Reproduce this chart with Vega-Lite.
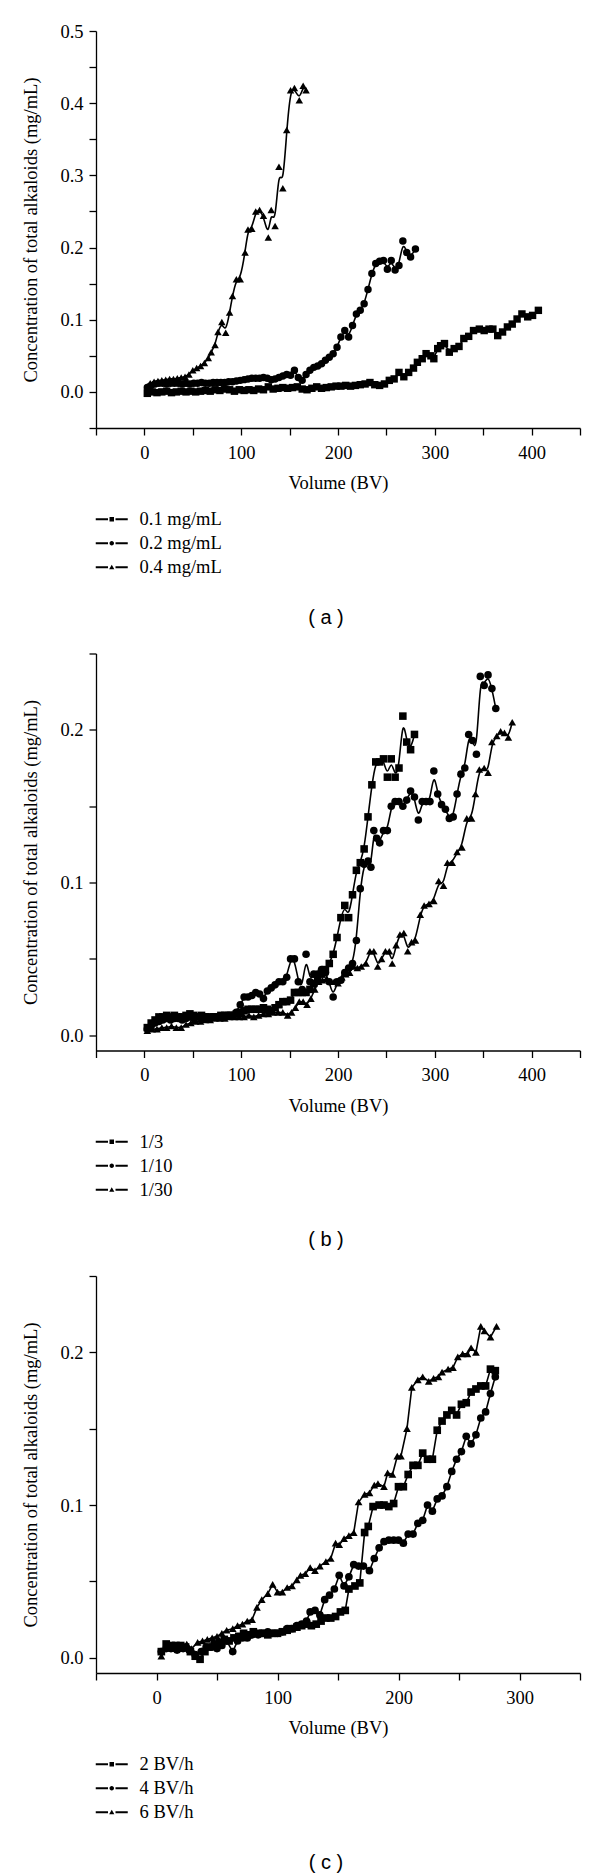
{
"$schema": "https://vega.github.io/schema/vega-lite/v6.json",
"background": "white",
"padding": {"left": 21, "top": 22, "right": 5, "bottom": 0},
"spacing": 16.5,
"config": {
  "view": {"stroke": null},
  "font": "Liberation Serif",
  "axis": {"grid": false, "domainColor": "black", "domainWidth": 1.3, "tickColor": "black", "tickWidth": 1.3, "tickSize": 7, "labelColor": "black", "labelFont": "Liberation Serif", "labelFontSize": 18.5, "labelPadding": 6, "labelOverlap": false, "labelFlush": false, "titleFont": "Liberation Serif", "titleFontSize": 18.5, "titleFontWeight": "normal", "titleColor": "black"},
  "axisY": {"titlePadding": 19},
  "axisX": {"titlePadding": 12, "labelPadding": 8},
  "legend": {"title": null, "orient": "none", "legendX": 6.5, "legendY": 479, "labelFont": "Liberation Serif", "labelFontSize": 18.5, "labelColor": "black", "labelOffset": 18.5, "rowPadding": 5, "padding": 0},
  "title": {"font": "Liberation Sans", "fontSize": 20, "fontWeight": "normal", "color": "black", "orient": "bottom", "anchor": "middle", "frame": "group", "offset": 30.5, "dx": -12}
},
"datasets": {
"a": [
{"v":3,"c":-0.002,"s":"0.1 mg/mL"},{"v":8,"c":0.0,"s":"0.1 mg/mL"},{"v":13,"c":-0.001,"s":"0.1 mg/mL"},{"v":18,"c":0.0,"s":"0.1 mg/mL"},{"v":23,"c":0.001,"s":"0.1 mg/mL"},{"v":28,"c":-0.001,"s":"0.1 mg/mL"},{"v":33,"c":0.0,"s":"0.1 mg/mL"},{"v":38,"c":0.001,"s":"0.1 mg/mL"},{"v":43,"c":0.0,"s":"0.1 mg/mL"},{"v":48,"c":0.001,"s":"0.1 mg/mL"},{"v":53,"c":0.0,"s":"0.1 mg/mL"},{"v":58,"c":0.001,"s":"0.1 mg/mL"},{"v":63,"c":0.002,"s":"0.1 mg/mL"},{"v":68,"c":0.001,"s":"0.1 mg/mL"},{"v":73,"c":0.003,"s":"0.1 mg/mL"},{"v":78,"c":0.002,"s":"0.1 mg/mL"},{"v":83,"c":0.004,"s":"0.1 mg/mL"},{"v":88,"c":0.003,"s":"0.1 mg/mL"},{"v":93,"c":0.001,"s":"0.1 mg/mL"},{"v":98,"c":0.003,"s":"0.1 mg/mL"},{"v":103,"c":0.002,"s":"0.1 mg/mL"},{"v":108,"c":0.003,"s":"0.1 mg/mL"},{"v":113,"c":0.002,"s":"0.1 mg/mL"},{"v":118,"c":0.004,"s":"0.1 mg/mL"},{"v":123,"c":0.003,"s":"0.1 mg/mL"},{"v":128,"c":0.007,"s":"0.1 mg/mL"},{"v":133,"c":0.004,"s":"0.1 mg/mL"},{"v":138,"c":0.005,"s":"0.1 mg/mL"},{"v":143,"c":0.006,"s":"0.1 mg/mL"},{"v":148,"c":0.005,"s":"0.1 mg/mL"},{"v":153,"c":0.006,"s":"0.1 mg/mL"},{"v":158,"c":0.007,"s":"0.1 mg/mL"},{"v":163,"c":0.004,"s":"0.1 mg/mL"},{"v":168,"c":0.003,"s":"0.1 mg/mL"},{"v":173,"c":0.005,"s":"0.1 mg/mL"},{"v":178,"c":0.007,"s":"0.1 mg/mL"},{"v":183,"c":0.005,"s":"0.1 mg/mL"},{"v":188,"c":0.006,"s":"0.1 mg/mL"},{"v":193,"c":0.007,"s":"0.1 mg/mL"},{"v":198,"c":0.008,"s":"0.1 mg/mL"},{"v":203,"c":0.008,"s":"0.1 mg/mL"},{"v":208,"c":0.009,"s":"0.1 mg/mL"},{"v":213,"c":0.008,"s":"0.1 mg/mL"},{"v":218,"c":0.009,"s":"0.1 mg/mL"},{"v":223,"c":0.01,"s":"0.1 mg/mL"},{"v":228,"c":0.011,"s":"0.1 mg/mL"},{"v":233,"c":0.013,"s":"0.1 mg/mL"},{"v":238,"c":0.01,"s":"0.1 mg/mL"},{"v":243,"c":0.009,"s":"0.1 mg/mL"},{"v":248,"c":0.011,"s":"0.1 mg/mL"},{"v":253,"c":0.016,"s":"0.1 mg/mL"},{"v":258,"c":0.018,"s":"0.1 mg/mL"},{"v":263,"c":0.027,"s":"0.1 mg/mL"},{"v":268,"c":0.021,"s":"0.1 mg/mL"},{"v":273,"c":0.027,"s":"0.1 mg/mL"},{"v":278,"c":0.033,"s":"0.1 mg/mL"},{"v":282,"c":0.041,"s":"0.1 mg/mL"},{"v":287,"c":0.046,"s":"0.1 mg/mL"},{"v":291,"c":0.053,"s":"0.1 mg/mL"},{"v":296,"c":0.05,"s":"0.1 mg/mL"},{"v":299,"c":0.046,"s":"0.1 mg/mL"},{"v":303,"c":0.06,"s":"0.1 mg/mL"},{"v":306,"c":0.064,"s":"0.1 mg/mL"},{"v":310,"c":0.067,"s":"0.1 mg/mL"},{"v":315,"c":0.055,"s":"0.1 mg/mL"},{"v":320,"c":0.06,"s":"0.1 mg/mL"},{"v":325,"c":0.063,"s":"0.1 mg/mL"},{"v":330,"c":0.074,"s":"0.1 mg/mL"},{"v":335,"c":0.077,"s":"0.1 mg/mL"},{"v":340,"c":0.085,"s":"0.1 mg/mL"},{"v":346,"c":0.087,"s":"0.1 mg/mL"},{"v":351,"c":0.085,"s":"0.1 mg/mL"},{"v":356,"c":0.087,"s":"0.1 mg/mL"},{"v":360,"c":0.087,"s":"0.1 mg/mL"},{"v":365,"c":0.078,"s":"0.1 mg/mL"},{"v":370,"c":0.083,"s":"0.1 mg/mL"},{"v":375,"c":0.09,"s":"0.1 mg/mL"},{"v":380,"c":0.094,"s":"0.1 mg/mL"},{"v":385,"c":0.101,"s":"0.1 mg/mL"},{"v":390,"c":0.108,"s":"0.1 mg/mL"},{"v":396,"c":0.104,"s":"0.1 mg/mL"},{"v":401,"c":0.106,"s":"0.1 mg/mL"},{"v":407,"c":0.113,"s":"0.1 mg/mL"},
{"v":3,"c":0.006,"s":"0.2 mg/mL"},{"v":7,"c":0.009,"s":"0.2 mg/mL"},{"v":11,"c":0.011,"s":"0.2 mg/mL"},{"v":15,"c":0.012,"s":"0.2 mg/mL"},{"v":19,"c":0.012,"s":"0.2 mg/mL"},{"v":23,"c":0.011,"s":"0.2 mg/mL"},{"v":27,"c":0.012,"s":"0.2 mg/mL"},{"v":31,"c":0.012,"s":"0.2 mg/mL"},{"v":35,"c":0.012,"s":"0.2 mg/mL"},{"v":39,"c":0.011,"s":"0.2 mg/mL"},{"v":43,"c":0.012,"s":"0.2 mg/mL"},{"v":47,"c":0.011,"s":"0.2 mg/mL"},{"v":51,"c":0.012,"s":"0.2 mg/mL"},{"v":55,"c":0.012,"s":"0.2 mg/mL"},{"v":59,"c":0.013,"s":"0.2 mg/mL"},{"v":63,"c":0.012,"s":"0.2 mg/mL"},{"v":67,"c":0.012,"s":"0.2 mg/mL"},{"v":71,"c":0.013,"s":"0.2 mg/mL"},{"v":75,"c":0.013,"s":"0.2 mg/mL"},{"v":79,"c":0.013,"s":"0.2 mg/mL"},{"v":83,"c":0.013,"s":"0.2 mg/mL"},{"v":87,"c":0.014,"s":"0.2 mg/mL"},{"v":91,"c":0.014,"s":"0.2 mg/mL"},{"v":95,"c":0.015,"s":"0.2 mg/mL"},{"v":99,"c":0.016,"s":"0.2 mg/mL"},{"v":103,"c":0.017,"s":"0.2 mg/mL"},{"v":107,"c":0.018,"s":"0.2 mg/mL"},{"v":111,"c":0.019,"s":"0.2 mg/mL"},{"v":115,"c":0.019,"s":"0.2 mg/mL"},{"v":119,"c":0.019,"s":"0.2 mg/mL"},{"v":123,"c":0.02,"s":"0.2 mg/mL"},{"v":127,"c":0.019,"s":"0.2 mg/mL"},{"v":131,"c":0.017,"s":"0.2 mg/mL"},{"v":135,"c":0.018,"s":"0.2 mg/mL"},{"v":139,"c":0.02,"s":"0.2 mg/mL"},{"v":143,"c":0.022,"s":"0.2 mg/mL"},{"v":147,"c":0.024,"s":"0.2 mg/mL"},{"v":151,"c":0.023,"s":"0.2 mg/mL"},{"v":155,"c":0.03,"s":"0.2 mg/mL"},{"v":159,"c":0.02,"s":"0.2 mg/mL"},{"v":163,"c":0.016,"s":"0.2 mg/mL"},{"v":167,"c":0.024,"s":"0.2 mg/mL"},{"v":171,"c":0.03,"s":"0.2 mg/mL"},{"v":175,"c":0.034,"s":"0.2 mg/mL"},{"v":179,"c":0.036,"s":"0.2 mg/mL"},{"v":183,"c":0.039,"s":"0.2 mg/mL"},{"v":187,"c":0.044,"s":"0.2 mg/mL"},{"v":191,"c":0.048,"s":"0.2 mg/mL"},{"v":195,"c":0.053,"s":"0.2 mg/mL"},{"v":199,"c":0.062,"s":"0.2 mg/mL"},{"v":203,"c":0.076,"s":"0.2 mg/mL"},{"v":207,"c":0.085,"s":"0.2 mg/mL"},{"v":211,"c":0.076,"s":"0.2 mg/mL"},{"v":215,"c":0.092,"s":"0.2 mg/mL"},{"v":219,"c":0.108,"s":"0.2 mg/mL"},{"v":223,"c":0.113,"s":"0.2 mg/mL"},{"v":227,"c":0.122,"s":"0.2 mg/mL"},{"v":231,"c":0.142,"s":"0.2 mg/mL"},{"v":235,"c":0.164,"s":"0.2 mg/mL"},{"v":239,"c":0.178,"s":"0.2 mg/mL"},{"v":243,"c":0.181,"s":"0.2 mg/mL"},{"v":247,"c":0.182,"s":"0.2 mg/mL"},{"v":251,"c":0.17,"s":"0.2 mg/mL"},{"v":255,"c":0.182,"s":"0.2 mg/mL"},{"v":259,"c":0.169,"s":"0.2 mg/mL"},{"v":263,"c":0.175,"s":"0.2 mg/mL"},{"v":267,"c":0.209,"s":"0.2 mg/mL"},{"v":271,"c":0.193,"s":"0.2 mg/mL"},{"v":275,"c":0.187,"s":"0.2 mg/mL"},{"v":280,"c":0.198,"s":"0.2 mg/mL"},
{"v":3,"c":0.008,"s":"0.4 mg/mL"},{"v":6,"c":0.012,"s":"0.4 mg/mL"},{"v":10,"c":0.014,"s":"0.4 mg/mL"},{"v":14,"c":0.015,"s":"0.4 mg/mL"},{"v":18,"c":0.016,"s":"0.4 mg/mL"},{"v":22,"c":0.017,"s":"0.4 mg/mL"},{"v":26,"c":0.018,"s":"0.4 mg/mL"},{"v":30,"c":0.018,"s":"0.4 mg/mL"},{"v":34,"c":0.019,"s":"0.4 mg/mL"},{"v":38,"c":0.02,"s":"0.4 mg/mL"},{"v":42,"c":0.021,"s":"0.4 mg/mL"},{"v":46,"c":0.024,"s":"0.4 mg/mL"},{"v":50,"c":0.03,"s":"0.4 mg/mL"},{"v":54,"c":0.033,"s":"0.4 mg/mL"},{"v":58,"c":0.036,"s":"0.4 mg/mL"},{"v":62,"c":0.04,"s":"0.4 mg/mL"},{"v":66,"c":0.047,"s":"0.4 mg/mL"},{"v":69,"c":0.055,"s":"0.4 mg/mL"},{"v":73,"c":0.065,"s":"0.4 mg/mL"},{"v":76,"c":0.083,"s":"0.4 mg/mL"},{"v":80,"c":0.097,"s":"0.4 mg/mL"},{"v":84,"c":0.082,"s":"0.4 mg/mL"},{"v":88,"c":0.11,"s":"0.4 mg/mL"},{"v":91,"c":0.133,"s":"0.4 mg/mL"},{"v":95,"c":0.156,"s":"0.4 mg/mL"},{"v":99,"c":0.156,"s":"0.4 mg/mL"},{"v":104,"c":0.193,"s":"0.4 mg/mL"},{"v":107,"c":0.225,"s":"0.4 mg/mL"},{"v":111,"c":0.226,"s":"0.4 mg/mL"},{"v":115,"c":0.25,"s":"0.4 mg/mL"},{"v":119,"c":0.252,"s":"0.4 mg/mL"},{"v":123,"c":0.244,"s":"0.4 mg/mL"},{"v":128,"c":0.214,"s":"0.4 mg/mL"},{"v":131,"c":0.252,"s":"0.4 mg/mL"},{"v":135,"c":0.23,"s":"0.4 mg/mL"},{"v":139,"c":0.312,"s":"0.4 mg/mL"},{"v":143,"c":0.282,"s":"0.4 mg/mL"},{"v":147,"c":0.363,"s":"0.4 mg/mL"},{"v":151,"c":0.418,"s":"0.4 mg/mL"},{"v":155,"c":0.421,"s":"0.4 mg/mL"},{"v":160,"c":0.404,"s":"0.4 mg/mL"},{"v":164,"c":0.424,"s":"0.4 mg/mL"},{"v":167,"c":0.418,"s":"0.4 mg/mL"}
],
"b": [
{"v":3,"c":0.005,"s":"1/3"},{"v":7,"c":0.008,"s":"1/3"},{"v":11,"c":0.01,"s":"1/3"},{"v":15,"c":0.012,"s":"1/3"},{"v":19,"c":0.012,"s":"1/3"},{"v":23,"c":0.013,"s":"1/3"},{"v":27,"c":0.012,"s":"1/3"},{"v":31,"c":0.013,"s":"1/3"},{"v":35,"c":0.012,"s":"1/3"},{"v":39,"c":0.012,"s":"1/3"},{"v":43,"c":0.013,"s":"1/3"},{"v":47,"c":0.014,"s":"1/3"},{"v":51,"c":0.013,"s":"1/3"},{"v":55,"c":0.012,"s":"1/3"},{"v":59,"c":0.013,"s":"1/3"},{"v":63,"c":0.012,"s":"1/3"},{"v":67,"c":0.012,"s":"1/3"},{"v":71,"c":0.012,"s":"1/3"},{"v":75,"c":0.012,"s":"1/3"},{"v":79,"c":0.013,"s":"1/3"},{"v":83,"c":0.013,"s":"1/3"},{"v":87,"c":0.013,"s":"1/3"},{"v":91,"c":0.013,"s":"1/3"},{"v":95,"c":0.014,"s":"1/3"},{"v":99,"c":0.015,"s":"1/3"},{"v":103,"c":0.016,"s":"1/3"},{"v":107,"c":0.017,"s":"1/3"},{"v":111,"c":0.017,"s":"1/3"},{"v":115,"c":0.017,"s":"1/3"},{"v":119,"c":0.017,"s":"1/3"},{"v":123,"c":0.018,"s":"1/3"},{"v":127,"c":0.017,"s":"1/3"},{"v":131,"c":0.016,"s":"1/3"},{"v":135,"c":0.018,"s":"1/3"},{"v":139,"c":0.02,"s":"1/3"},{"v":143,"c":0.022,"s":"1/3"},{"v":147,"c":0.022,"s":"1/3"},{"v":151,"c":0.023,"s":"1/3"},{"v":155,"c":0.028,"s":"1/3"},{"v":159,"c":0.028,"s":"1/3"},{"v":163,"c":0.028,"s":"1/3"},{"v":167,"c":0.028,"s":"1/3"},{"v":171,"c":0.03,"s":"1/3"},{"v":175,"c":0.034,"s":"1/3"},{"v":179,"c":0.036,"s":"1/3"},{"v":183,"c":0.04,"s":"1/3"},{"v":187,"c":0.043,"s":"1/3"},{"v":191,"c":0.047,"s":"1/3"},{"v":195,"c":0.053,"s":"1/3"},{"v":199,"c":0.064,"s":"1/3"},{"v":203,"c":0.077,"s":"1/3"},{"v":207,"c":0.085,"s":"1/3"},{"v":211,"c":0.077,"s":"1/3"},{"v":215,"c":0.092,"s":"1/3"},{"v":219,"c":0.108,"s":"1/3"},{"v":223,"c":0.113,"s":"1/3"},{"v":227,"c":0.122,"s":"1/3"},{"v":231,"c":0.143,"s":"1/3"},{"v":235,"c":0.164,"s":"1/3"},{"v":239,"c":0.179,"s":"1/3"},{"v":243,"c":0.179,"s":"1/3"},{"v":247,"c":0.181,"s":"1/3"},{"v":251,"c":0.169,"s":"1/3"},{"v":255,"c":0.181,"s":"1/3"},{"v":259,"c":0.169,"s":"1/3"},{"v":263,"c":0.175,"s":"1/3"},{"v":267,"c":0.209,"s":"1/3"},{"v":271,"c":0.192,"s":"1/3"},{"v":275,"c":0.187,"s":"1/3"},{"v":279,"c":0.197,"s":"1/3"},
{"v":3,"c":0.004,"s":"1/10"},{"v":7,"c":0.006,"s":"1/10"},{"v":11,"c":0.008,"s":"1/10"},{"v":15,"c":0.009,"s":"1/10"},{"v":19,"c":0.01,"s":"1/10"},{"v":23,"c":0.011,"s":"1/10"},{"v":27,"c":0.01,"s":"1/10"},{"v":31,"c":0.011,"s":"1/10"},{"v":35,"c":0.011,"s":"1/10"},{"v":39,"c":0.01,"s":"1/10"},{"v":43,"c":0.011,"s":"1/10"},{"v":47,"c":0.012,"s":"1/10"},{"v":51,"c":0.011,"s":"1/10"},{"v":55,"c":0.012,"s":"1/10"},{"v":59,"c":0.011,"s":"1/10"},{"v":63,"c":0.012,"s":"1/10"},{"v":67,"c":0.011,"s":"1/10"},{"v":71,"c":0.012,"s":"1/10"},{"v":75,"c":0.012,"s":"1/10"},{"v":79,"c":0.012,"s":"1/10"},{"v":83,"c":0.012,"s":"1/10"},{"v":87,"c":0.013,"s":"1/10"},{"v":91,"c":0.013,"s":"1/10"},{"v":95,"c":0.015,"s":"1/10"},{"v":99,"c":0.02,"s":"1/10"},{"v":103,"c":0.025,"s":"1/10"},{"v":107,"c":0.025,"s":"1/10"},{"v":111,"c":0.026,"s":"1/10"},{"v":115,"c":0.028,"s":"1/10"},{"v":119,"c":0.027,"s":"1/10"},{"v":123,"c":0.024,"s":"1/10"},{"v":127,"c":0.029,"s":"1/10"},{"v":131,"c":0.031,"s":"1/10"},{"v":135,"c":0.033,"s":"1/10"},{"v":139,"c":0.035,"s":"1/10"},{"v":143,"c":0.035,"s":"1/10"},{"v":147,"c":0.038,"s":"1/10"},{"v":151,"c":0.05,"s":"1/10"},{"v":155,"c":0.05,"s":"1/10"},{"v":159,"c":0.035,"s":"1/10"},{"v":163,"c":0.03,"s":"1/10"},{"v":167,"c":0.053,"s":"1/10"},{"v":171,"c":0.035,"s":"1/10"},{"v":175,"c":0.04,"s":"1/10"},{"v":179,"c":0.04,"s":"1/10"},{"v":183,"c":0.043,"s":"1/10"},{"v":187,"c":0.041,"s":"1/10"},{"v":191,"c":0.035,"s":"1/10"},{"v":195,"c":0.025,"s":"1/10"},{"v":199,"c":0.035,"s":"1/10"},{"v":203,"c":0.036,"s":"1/10"},{"v":207,"c":0.041,"s":"1/10"},{"v":211,"c":0.044,"s":"1/10"},{"v":215,"c":0.047,"s":"1/10"},{"v":219,"c":0.062,"s":"1/10"},{"v":223,"c":0.096,"s":"1/10"},{"v":227,"c":0.112,"s":"1/10"},{"v":231,"c":0.114,"s":"1/10"},{"v":234,"c":0.11,"s":"1/10"},{"v":237,"c":0.134,"s":"1/10"},{"v":240,"c":0.129,"s":"1/10"},{"v":243,"c":0.126,"s":"1/10"},{"v":247,"c":0.134,"s":"1/10"},{"v":251,"c":0.134,"s":"1/10"},{"v":255,"c":0.15,"s":"1/10"},{"v":259,"c":0.153,"s":"1/10"},{"v":263,"c":0.153,"s":"1/10"},{"v":267,"c":0.15,"s":"1/10"},{"v":271,"c":0.154,"s":"1/10"},{"v":275,"c":0.16,"s":"1/10"},{"v":279,"c":0.156,"s":"1/10"},{"v":283,"c":0.141,"s":"1/10"},{"v":287,"c":0.153,"s":"1/10"},{"v":291,"c":0.153,"s":"1/10"},{"v":295,"c":0.153,"s":"1/10"},{"v":299,"c":0.173,"s":"1/10"},{"v":303,"c":0.158,"s":"1/10"},{"v":307,"c":0.151,"s":"1/10"},{"v":311,"c":0.148,"s":"1/10"},{"v":315,"c":0.142,"s":"1/10"},{"v":319,"c":0.143,"s":"1/10"},{"v":323,"c":0.158,"s":"1/10"},{"v":327,"c":0.171,"s":"1/10"},{"v":331,"c":0.175,"s":"1/10"},{"v":335,"c":0.197,"s":"1/10"},{"v":339,"c":0.193,"s":"1/10"},{"v":343,"c":0.184,"s":"1/10"},{"v":347,"c":0.235,"s":"1/10"},{"v":351,"c":0.229,"s":"1/10"},{"v":355,"c":0.236,"s":"1/10"},{"v":359,"c":0.227,"s":"1/10"},{"v":363,"c":0.214,"s":"1/10"},
{"v":3,"c":0.003,"s":"1/30"},{"v":8,"c":0.004,"s":"1/30"},{"v":13,"c":0.004,"s":"1/30"},{"v":18,"c":0.005,"s":"1/30"},{"v":23,"c":0.005,"s":"1/30"},{"v":28,"c":0.006,"s":"1/30"},{"v":33,"c":0.005,"s":"1/30"},{"v":38,"c":0.005,"s":"1/30"},{"v":43,"c":0.007,"s":"1/30"},{"v":48,"c":0.008,"s":"1/30"},{"v":53,"c":0.009,"s":"1/30"},{"v":58,"c":0.009,"s":"1/30"},{"v":63,"c":0.01,"s":"1/30"},{"v":68,"c":0.01,"s":"1/30"},{"v":73,"c":0.011,"s":"1/30"},{"v":78,"c":0.011,"s":"1/30"},{"v":83,"c":0.011,"s":"1/30"},{"v":88,"c":0.012,"s":"1/30"},{"v":93,"c":0.012,"s":"1/30"},{"v":98,"c":0.012,"s":"1/30"},{"v":103,"c":0.012,"s":"1/30"},{"v":108,"c":0.013,"s":"1/30"},{"v":113,"c":0.012,"s":"1/30"},{"v":118,"c":0.013,"s":"1/30"},{"v":123,"c":0.014,"s":"1/30"},{"v":128,"c":0.014,"s":"1/30"},{"v":133,"c":0.015,"s":"1/30"},{"v":138,"c":0.015,"s":"1/30"},{"v":143,"c":0.015,"s":"1/30"},{"v":148,"c":0.013,"s":"1/30"},{"v":152,"c":0.015,"s":"1/30"},{"v":156,"c":0.018,"s":"1/30"},{"v":160,"c":0.022,"s":"1/30"},{"v":164,"c":0.022,"s":"1/30"},{"v":168,"c":0.02,"s":"1/30"},{"v":172,"c":0.024,"s":"1/30"},{"v":176,"c":0.03,"s":"1/30"},{"v":180,"c":0.035,"s":"1/30"},{"v":184,"c":0.036,"s":"1/30"},{"v":188,"c":0.037,"s":"1/30"},{"v":192,"c":0.035,"s":"1/30"},{"v":196,"c":0.035,"s":"1/30"},{"v":200,"c":0.034,"s":"1/30"},{"v":204,"c":0.038,"s":"1/30"},{"v":208,"c":0.04,"s":"1/30"},{"v":212,"c":0.041,"s":"1/30"},{"v":216,"c":0.045,"s":"1/30"},{"v":220,"c":0.044,"s":"1/30"},{"v":224,"c":0.045,"s":"1/30"},{"v":229,"c":0.047,"s":"1/30"},{"v":233,"c":0.055,"s":"1/30"},{"v":237,"c":0.055,"s":"1/30"},{"v":241,"c":0.045,"s":"1/30"},{"v":245,"c":0.05,"s":"1/30"},{"v":249,"c":0.055,"s":"1/30"},{"v":253,"c":0.055,"s":"1/30"},{"v":256,"c":0.047,"s":"1/30"},{"v":260,"c":0.059,"s":"1/30"},{"v":264,"c":0.066,"s":"1/30"},{"v":268,"c":0.067,"s":"1/30"},{"v":272,"c":0.055,"s":"1/30"},{"v":276,"c":0.061,"s":"1/30"},{"v":280,"c":0.062,"s":"1/30"},{"v":285,"c":0.079,"s":"1/30"},{"v":289,"c":0.085,"s":"1/30"},{"v":294,"c":0.086,"s":"1/30"},{"v":299,"c":0.088,"s":"1/30"},{"v":304,"c":0.101,"s":"1/30"},{"v":309,"c":0.098,"s":"1/30"},{"v":313,"c":0.113,"s":"1/30"},{"v":318,"c":0.113,"s":"1/30"},{"v":323,"c":0.12,"s":"1/30"},{"v":328,"c":0.123,"s":"1/30"},{"v":333,"c":0.142,"s":"1/30"},{"v":338,"c":0.142,"s":"1/30"},{"v":342,"c":0.158,"s":"1/30"},{"v":346,"c":0.174,"s":"1/30"},{"v":351,"c":0.175,"s":"1/30"},{"v":355,"c":0.172,"s":"1/30"},{"v":359,"c":0.192,"s":"1/30"},{"v":364,"c":0.196,"s":"1/30"},{"v":368,"c":0.199,"s":"1/30"},{"v":372,"c":0.198,"s":"1/30"},{"v":376,"c":0.195,"s":"1/30"},{"v":380,"c":0.205,"s":"1/30"}
],
"c": [
{"v":4,"c":0.004,"s":"2 BV/h"},{"v":8,"c":0.009,"s":"2 BV/h"},{"v":12,"c":0.008,"s":"2 BV/h"},{"v":16,"c":0.008,"s":"2 BV/h"},{"v":20,"c":0.008,"s":"2 BV/h"},{"v":24,"c":0.007,"s":"2 BV/h"},{"v":28,"c":0.004,"s":"2 BV/h"},{"v":32,"c":0.001,"s":"2 BV/h"},{"v":36,"c":-0.001,"s":"2 BV/h"},{"v":40,"c":0.004,"s":"2 BV/h"},{"v":44,"c":0.007,"s":"2 BV/h"},{"v":48,"c":0.009,"s":"2 BV/h"},{"v":52,"c":0.01,"s":"2 BV/h"},{"v":56,"c":0.012,"s":"2 BV/h"},{"v":60,"c":0.011,"s":"2 BV/h"},{"v":64,"c":0.013,"s":"2 BV/h"},{"v":68,"c":0.014,"s":"2 BV/h"},{"v":72,"c":0.016,"s":"2 BV/h"},{"v":76,"c":0.015,"s":"2 BV/h"},{"v":80,"c":0.017,"s":"2 BV/h"},{"v":84,"c":0.016,"s":"2 BV/h"},{"v":88,"c":0.016,"s":"2 BV/h"},{"v":92,"c":0.015,"s":"2 BV/h"},{"v":96,"c":0.016,"s":"2 BV/h"},{"v":100,"c":0.016,"s":"2 BV/h"},{"v":104,"c":0.017,"s":"2 BV/h"},{"v":108,"c":0.018,"s":"2 BV/h"},{"v":112,"c":0.019,"s":"2 BV/h"},{"v":116,"c":0.02,"s":"2 BV/h"},{"v":120,"c":0.021,"s":"2 BV/h"},{"v":124,"c":0.022,"s":"2 BV/h"},{"v":128,"c":0.021,"s":"2 BV/h"},{"v":132,"c":0.022,"s":"2 BV/h"},{"v":136,"c":0.024,"s":"2 BV/h"},{"v":140,"c":0.026,"s":"2 BV/h"},{"v":144,"c":0.026,"s":"2 BV/h"},{"v":148,"c":0.027,"s":"2 BV/h"},{"v":152,"c":0.03,"s":"2 BV/h"},{"v":156,"c":0.031,"s":"2 BV/h"},{"v":159,"c":0.045,"s":"2 BV/h"},{"v":164,"c":0.047,"s":"2 BV/h"},{"v":168,"c":0.049,"s":"2 BV/h"},{"v":172,"c":0.082,"s":"2 BV/h"},{"v":175,"c":0.086,"s":"2 BV/h"},{"v":179,"c":0.099,"s":"2 BV/h"},{"v":184,"c":0.1,"s":"2 BV/h"},{"v":188,"c":0.1,"s":"2 BV/h"},{"v":192,"c":0.099,"s":"2 BV/h"},{"v":196,"c":0.101,"s":"2 BV/h"},{"v":200,"c":0.112,"s":"2 BV/h"},{"v":204,"c":0.112,"s":"2 BV/h"},{"v":208,"c":0.12,"s":"2 BV/h"},{"v":212,"c":0.126,"s":"2 BV/h"},{"v":216,"c":0.126,"s":"2 BV/h"},{"v":220,"c":0.134,"s":"2 BV/h"},{"v":224,"c":0.13,"s":"2 BV/h"},{"v":228,"c":0.13,"s":"2 BV/h"},{"v":232,"c":0.149,"s":"2 BV/h"},{"v":236,"c":0.155,"s":"2 BV/h"},{"v":240,"c":0.159,"s":"2 BV/h"},{"v":244,"c":0.162,"s":"2 BV/h"},{"v":248,"c":0.159,"s":"2 BV/h"},{"v":252,"c":0.166,"s":"2 BV/h"},{"v":256,"c":0.167,"s":"2 BV/h"},{"v":260,"c":0.174,"s":"2 BV/h"},{"v":264,"c":0.176,"s":"2 BV/h"},{"v":268,"c":0.178,"s":"2 BV/h"},{"v":272,"c":0.178,"s":"2 BV/h"},{"v":276,"c":0.189,"s":"2 BV/h"},{"v":280,"c":0.188,"s":"2 BV/h"},
{"v":4,"c":0.004,"s":"4 BV/h"},{"v":8,"c":0.006,"s":"4 BV/h"},{"v":12,"c":0.006,"s":"4 BV/h"},{"v":17,"c":0.005,"s":"4 BV/h"},{"v":22,"c":0.006,"s":"4 BV/h"},{"v":27,"c":0.005,"s":"4 BV/h"},{"v":32,"c":0.002,"s":"4 BV/h"},{"v":37,"c":0.004,"s":"4 BV/h"},{"v":41,"c":0.007,"s":"4 BV/h"},{"v":45,"c":0.007,"s":"4 BV/h"},{"v":50,"c":0.006,"s":"4 BV/h"},{"v":54,"c":0.008,"s":"4 BV/h"},{"v":58,"c":0.011,"s":"4 BV/h"},{"v":63,"c":0.004,"s":"4 BV/h"},{"v":67,"c":0.011,"s":"4 BV/h"},{"v":71,"c":0.013,"s":"4 BV/h"},{"v":75,"c":0.013,"s":"4 BV/h"},{"v":79,"c":0.015,"s":"4 BV/h"},{"v":84,"c":0.015,"s":"4 BV/h"},{"v":88,"c":0.016,"s":"4 BV/h"},{"v":92,"c":0.017,"s":"4 BV/h"},{"v":96,"c":0.016,"s":"4 BV/h"},{"v":100,"c":0.016,"s":"4 BV/h"},{"v":104,"c":0.017,"s":"4 BV/h"},{"v":108,"c":0.019,"s":"4 BV/h"},{"v":112,"c":0.019,"s":"4 BV/h"},{"v":116,"c":0.021,"s":"4 BV/h"},{"v":120,"c":0.022,"s":"4 BV/h"},{"v":124,"c":0.024,"s":"4 BV/h"},{"v":127,"c":0.03,"s":"4 BV/h"},{"v":131,"c":0.031,"s":"4 BV/h"},{"v":135,"c":0.028,"s":"4 BV/h"},{"v":139,"c":0.038,"s":"4 BV/h"},{"v":143,"c":0.041,"s":"4 BV/h"},{"v":147,"c":0.045,"s":"4 BV/h"},{"v":151,"c":0.054,"s":"4 BV/h"},{"v":155,"c":0.047,"s":"4 BV/h"},{"v":159,"c":0.053,"s":"4 BV/h"},{"v":163,"c":0.061,"s":"4 BV/h"},{"v":167,"c":0.06,"s":"4 BV/h"},{"v":171,"c":0.06,"s":"4 BV/h"},{"v":176,"c":0.057,"s":"4 BV/h"},{"v":180,"c":0.065,"s":"4 BV/h"},{"v":184,"c":0.072,"s":"4 BV/h"},{"v":188,"c":0.076,"s":"4 BV/h"},{"v":192,"c":0.077,"s":"4 BV/h"},{"v":196,"c":0.077,"s":"4 BV/h"},{"v":200,"c":0.077,"s":"4 BV/h"},{"v":204,"c":0.075,"s":"4 BV/h"},{"v":208,"c":0.081,"s":"4 BV/h"},{"v":212,"c":0.081,"s":"4 BV/h"},{"v":216,"c":0.088,"s":"4 BV/h"},{"v":220,"c":0.09,"s":"4 BV/h"},{"v":224,"c":0.1,"s":"4 BV/h"},{"v":228,"c":0.096,"s":"4 BV/h"},{"v":232,"c":0.104,"s":"4 BV/h"},{"v":236,"c":0.106,"s":"4 BV/h"},{"v":240,"c":0.112,"s":"4 BV/h"},{"v":244,"c":0.122,"s":"4 BV/h"},{"v":248,"c":0.13,"s":"4 BV/h"},{"v":252,"c":0.135,"s":"4 BV/h"},{"v":256,"c":0.145,"s":"4 BV/h"},{"v":260,"c":0.14,"s":"4 BV/h"},{"v":264,"c":0.146,"s":"4 BV/h"},{"v":268,"c":0.157,"s":"4 BV/h"},{"v":272,"c":0.161,"s":"4 BV/h"},{"v":276,"c":0.173,"s":"4 BV/h"},{"v":280,"c":0.184,"s":"4 BV/h"},
{"v":4,"c":0.001,"s":"6 BV/h"},{"v":9,"c":0.007,"s":"6 BV/h"},{"v":13,"c":0.006,"s":"6 BV/h"},{"v":17,"c":0.007,"s":"6 BV/h"},{"v":21,"c":0.006,"s":"6 BV/h"},{"v":25,"c":0.009,"s":"6 BV/h"},{"v":29,"c":0.006,"s":"6 BV/h"},{"v":34,"c":0.01,"s":"6 BV/h"},{"v":38,"c":0.011,"s":"6 BV/h"},{"v":42,"c":0.012,"s":"6 BV/h"},{"v":46,"c":0.013,"s":"6 BV/h"},{"v":50,"c":0.014,"s":"6 BV/h"},{"v":54,"c":0.016,"s":"6 BV/h"},{"v":58,"c":0.018,"s":"6 BV/h"},{"v":63,"c":0.019,"s":"6 BV/h"},{"v":67,"c":0.021,"s":"6 BV/h"},{"v":71,"c":0.022,"s":"6 BV/h"},{"v":75,"c":0.024,"s":"6 BV/h"},{"v":79,"c":0.025,"s":"6 BV/h"},{"v":83,"c":0.033,"s":"6 BV/h"},{"v":87,"c":0.038,"s":"6 BV/h"},{"v":92,"c":0.042,"s":"6 BV/h"},{"v":96,"c":0.048,"s":"6 BV/h"},{"v":100,"c":0.043,"s":"6 BV/h"},{"v":104,"c":0.043,"s":"6 BV/h"},{"v":108,"c":0.046,"s":"6 BV/h"},{"v":112,"c":0.047,"s":"6 BV/h"},{"v":116,"c":0.051,"s":"6 BV/h"},{"v":119,"c":0.054,"s":"6 BV/h"},{"v":123,"c":0.055,"s":"6 BV/h"},{"v":127,"c":0.059,"s":"6 BV/h"},{"v":131,"c":0.057,"s":"6 BV/h"},{"v":135,"c":0.06,"s":"6 BV/h"},{"v":140,"c":0.063,"s":"6 BV/h"},{"v":144,"c":0.065,"s":"6 BV/h"},{"v":148,"c":0.075,"s":"6 BV/h"},{"v":151,"c":0.074,"s":"6 BV/h"},{"v":155,"c":0.078,"s":"6 BV/h"},{"v":159,"c":0.08,"s":"6 BV/h"},{"v":163,"c":0.082,"s":"6 BV/h"},{"v":167,"c":0.102,"s":"6 BV/h"},{"v":172,"c":0.107,"s":"6 BV/h"},{"v":176,"c":0.108,"s":"6 BV/h"},{"v":180,"c":0.113,"s":"6 BV/h"},{"v":183,"c":0.114,"s":"6 BV/h"},{"v":188,"c":0.112,"s":"6 BV/h"},{"v":191,"c":0.121,"s":"6 BV/h"},{"v":195,"c":0.12,"s":"6 BV/h"},{"v":199,"c":0.132,"s":"6 BV/h"},{"v":202,"c":0.132,"s":"6 BV/h"},{"v":207,"c":0.15,"s":"6 BV/h"},{"v":211,"c":0.177,"s":"6 BV/h"},{"v":216,"c":0.182,"s":"6 BV/h"},{"v":220,"c":0.184,"s":"6 BV/h"},{"v":225,"c":0.181,"s":"6 BV/h"},{"v":229,"c":0.183,"s":"6 BV/h"},{"v":233,"c":0.184,"s":"6 BV/h"},{"v":236,"c":0.187,"s":"6 BV/h"},{"v":241,"c":0.189,"s":"6 BV/h"},{"v":245,"c":0.19,"s":"6 BV/h"},{"v":249,"c":0.197,"s":"6 BV/h"},{"v":253,"c":0.199,"s":"6 BV/h"},{"v":257,"c":0.199,"s":"6 BV/h"},{"v":260,"c":0.203,"s":"6 BV/h"},{"v":264,"c":0.2,"s":"6 BV/h"},{"v":268,"c":0.217,"s":"6 BV/h"},{"v":271,"c":0.214,"s":"6 BV/h"},{"v":276,"c":0.21,"s":"6 BV/h"},{"v":281,"c":0.217,"s":"6 BV/h"}
]
},
"vconcat": [
{
  "width": 484, "height": 397,
  "data": {"name": "a"},
  "title": {"text": "( a )"},
  "encoding": {
    "x": {"field": "v", "type": "quantitative", "scale": {"domain": [-50, 450], "nice": false, "zero": false}, "axis": {"title": "Volume (BV)", "values": [-50,0,50,100,150,200,250,300,350,400,450], "labelExpr": "datum.value % 100 === 0 ? datum.label : ''"}},
    "y": {"field": "c", "type": "quantitative", "scale": {"domain": [-0.05, 0.5], "nice": false, "zero": false}, "axis": {"title": "Concentration of total alkaloids (mg/mL)", "values": [-0.05,0,0.05,0.1,0.15,0.2,0.25,0.3,0.35,0.4,0.45,0.5], "labelExpr": "abs(datum.value*10 - round(datum.value*10)) < 0.001 ? format(datum.value, '.1f') : ''"}}
  },
  "layer": [
    {"mark": {"type": "line", "interpolate": "basis", "color": "black", "strokeWidth": 1.6}, "encoding": {"detail": {"field": "s"}}},
    {"mark": {"type": "point", "filled": true, "color": "black", "opacity": 1}, "encoding": {"shape": {"field": "s", "scale": {"domain": ["0.1 mg/mL","0.2 mg/mL","0.4 mg/mL"], "range": ["square","circle","triangle-up"]}, "legend": null}, "size": {"field": "s", "scale": {"domain": ["0.1 mg/mL","0.2 mg/mL","0.4 mg/mL"], "range": [55,60,85]}, "legend": null}}},
    {"transform": [{"filter": "false"}], "mark": {"type": "point", "filled": true, "color": "black", "opacity": 1, "size": 100}, "encoding": {"shape": {"field": "s", "scale": {"domain": ["0.1 mg/mL","0.2 mg/mL","0.4 mg/mL"], "range": ["M-3.2,-0.2H-0.75V0.2H-3.2ZM0.75,-0.2H3.2V0.2H0.75ZM-0.45,-0.45H0.45V0.45H-0.45Z","M-3.2,-0.2H-0.75V0.2H-3.2ZM0.75,-0.2H3.2V0.2H0.75ZM0.45,0A0.45,0.45,0,1,1,-0.45,0A0.45,0.45,0,1,1,0.45,0Z","M-3.2,-0.2H-0.75V0.2H-3.2ZM0.75,-0.2H3.2V0.2H0.75ZM0,-0.5L0.52,0.4L-0.52,0.4Z"]}, "legend": {}}}}
  ],
  "resolve": {"scale": {"shape": "independent"}}
},
{
  "width": 484, "height": 397,
  "data": {"name": "b"},
  "title": {"text": "( b )"},
  "encoding": {
    "x": {"field": "v", "type": "quantitative", "scale": {"domain": [-50, 450], "nice": false, "zero": false}, "axis": {"title": "Volume (BV)", "values": [-50,0,50,100,150,200,250,300,350,400,450], "labelExpr": "datum.value % 100 === 0 ? datum.label : ''"}},
    "y": {"field": "c", "type": "quantitative", "scale": {"domain": [-0.01, 0.25], "nice": false, "zero": false}, "axis": {"title": "Concentration of total alkaloids (mg/mL)", "values": [0,0.05,0.1,0.15,0.2,0.25], "labelExpr": "abs(datum.value*10 - round(datum.value*10)) < 0.001 ? format(datum.value, '.1f') : ''"}}
  },
  "layer": [
    {"mark": {"type": "line", "interpolate": "basis", "color": "black", "strokeWidth": 1.6}, "encoding": {"detail": {"field": "s"}}},
    {"mark": {"type": "point", "filled": true, "color": "black", "opacity": 1}, "encoding": {"shape": {"field": "s", "scale": {"domain": ["1/3","1/10","1/30"], "range": ["square","circle","triangle-up"]}, "legend": null}, "size": {"field": "s", "scale": {"domain": ["1/3","1/10","1/30"], "range": [55,60,85]}, "legend": null}}},
    {"transform": [{"filter": "false"}], "mark": {"type": "point", "filled": true, "color": "black", "opacity": 1, "size": 100}, "encoding": {"shape": {"field": "s", "scale": {"domain": ["1/3","1/10","1/30"], "range": ["M-3.2,-0.2H-0.75V0.2H-3.2ZM0.75,-0.2H3.2V0.2H0.75ZM-0.45,-0.45H0.45V0.45H-0.45Z","M-3.2,-0.2H-0.75V0.2H-3.2ZM0.75,-0.2H3.2V0.2H0.75ZM0.45,0A0.45,0.45,0,1,1,-0.45,0A0.45,0.45,0,1,1,0.45,0Z","M-3.2,-0.2H-0.75V0.2H-3.2ZM0.75,-0.2H3.2V0.2H0.75ZM0,-0.5L0.52,0.4L-0.52,0.4Z"]}, "legend": {}}}}
  ],
  "resolve": {"scale": {"shape": "independent"}}
},
{
  "width": 484, "height": 397,
  "data": {"name": "c"},
  "title": {"text": "( c )"},
  "encoding": {
    "x": {"field": "v", "type": "quantitative", "scale": {"domain": [-50, 350], "nice": false, "zero": false}, "axis": {"title": "Volume (BV)", "values": [-50,0,50,100,150,200,250,300,350], "labelExpr": "datum.value % 100 === 0 ? datum.label : ''"}},
    "y": {"field": "c", "type": "quantitative", "scale": {"domain": [-0.01, 0.25], "nice": false, "zero": false}, "axis": {"title": "Concentration of total alkaloids (mg/mL)", "values": [0,0.05,0.1,0.15,0.2,0.25], "labelExpr": "abs(datum.value*10 - round(datum.value*10)) < 0.001 ? format(datum.value, '.1f') : ''"}}
  },
  "layer": [
    {"mark": {"type": "line", "interpolate": "linear", "color": "black", "strokeWidth": 1.6}, "encoding": {"detail": {"field": "s"}}},
    {"mark": {"type": "point", "filled": true, "color": "black", "opacity": 1}, "encoding": {"shape": {"field": "s", "scale": {"domain": ["2 BV/h","4 BV/h","6 BV/h"], "range": ["square","circle","triangle-up"]}, "legend": null}, "size": {"field": "s", "scale": {"domain": ["2 BV/h","4 BV/h","6 BV/h"], "range": [50,50,70]}, "legend": null}}},
    {"transform": [{"filter": "false"}], "mark": {"type": "point", "filled": true, "color": "black", "opacity": 1, "size": 100}, "encoding": {"shape": {"field": "s", "scale": {"domain": ["2 BV/h","4 BV/h","6 BV/h"], "range": ["M-3.2,-0.2H-0.75V0.2H-3.2ZM0.75,-0.2H3.2V0.2H0.75ZM-0.45,-0.45H0.45V0.45H-0.45Z","M-3.2,-0.2H-0.75V0.2H-3.2ZM0.75,-0.2H3.2V0.2H0.75ZM0.45,0A0.45,0.45,0,1,1,-0.45,0A0.45,0.45,0,1,1,0.45,0Z","M-3.2,-0.2H-0.75V0.2H-3.2ZM0.75,-0.2H3.2V0.2H0.75ZM0,-0.5L0.52,0.4L-0.52,0.4Z"]}, "legend": {}}}}
  ],
  "resolve": {"scale": {"shape": "independent"}}
}
]
}
